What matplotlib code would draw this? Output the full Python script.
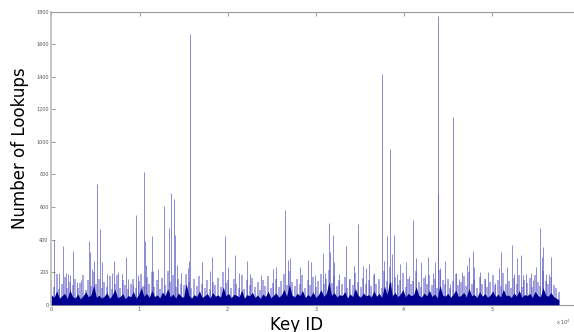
import numpy as np
import matplotlib
matplotlib.use("Agg")
import matplotlib.pyplot as plt

# Key IDs are in units of 10^4
base_keys_start = 0.0
base_keys_step = 0.03

core_counts = [
    60, 45, 85, 40, 55, 70, 38, 90, 50, 42,
    65, 35, 55, 80, 48, 62, 120, 45, 58, 40,
    52, 75, 38, 60, 95, 44, 50, 68, 36, 57,
    48, 82, 40, 63, 105, 52, 70, 45, 88, 50,
    60, 42, 78, 55, 98, 48, 66, 40, 72, 52,
    45, 130, 58, 40, 62, 50, 85, 44, 56, 68,
    40, 75, 52, 60, 46, 110, 55, 70, 42, 64,
    58, 48, 90, 40, 62, 54, 76, 45, 60, 38,
    66, 50, 84, 42, 58, 72, 46, 60, 95, 52,
    125, 60, 48, 70, 55, 88, 44, 62, 50, 78,
    45, 60, 92, 52, 68, 140, 58, 74, 48, 62,
    55, 80, 42, 66, 50, 100, 58, 46, 72, 54,
    62, 48, 85, 52, 70, 44, 115, 60, 150, 56,
    75, 50, 64, 92, 48, 70, 55, 62, 110, 58,
    46, 72, 54, 88, 50, 66, 42, 120, 60, 52,
    70, 45, 64, 90, 50, 58, 76, 48, 100, 55,
    62, 44, 80, 52, 68, 46, 58, 85, 50, 64,
    48, 96, 55, 60, 44, 72, 52, 88, 46, 62,
    56, 70, 45, 82, 58, 48, 105, 60, 52, 75,
    50, 40, 30,
]

haze_counts = [
    150, 110, 190, 95, 130, 170, 100, 140, 120, 160,
    105, 135, 180, 90, 150, 115, 200, 125, 160, 100,
    140, 110, 175, 95, 130, 185, 105, 150, 120, 95,
    130, 160, 100, 145, 190, 115, 170, 125, 200, 110,
    150, 95, 165, 120, 210, 140, 180, 110, 155, 130,
    120, 190, 140, 100, 160, 115, 175, 130, 105, 150,
    95, 140, 120, 165, 110, 200, 135, 150, 100, 160,
    125, 105, 180, 95, 150, 120, 165, 110, 140, 90,
    150, 115, 175, 100, 135, 160, 110, 145, 190, 120,
    210, 140, 115, 160, 125, 185, 100, 150, 120, 170,
    110, 145, 190, 125, 160, 215, 135, 175, 115, 150,
    130, 170, 105, 155, 120, 195, 140, 110, 165, 125,
    150, 115, 185, 130, 160, 105, 210, 145, 230, 135,
    170, 120, 150, 195, 110, 160, 130, 145, 205, 140,
    110, 165, 125, 185, 120, 155, 100, 215, 150, 125,
    160, 105, 145, 190, 120, 140, 175, 115, 200, 130,
    150, 100, 170, 125, 160, 110, 140, 185, 120, 150,
    115, 195, 130, 145, 105, 165, 125, 185, 110, 150,
    135, 165, 110, 180, 140, 115, 205, 145, 125, 170,
    120, 100, 80,
]

spike_keys = [
    0.033, 0.090, 0.135, 0.162, 0.185, 0.211, 0.249, 0.294, 0.333, 0.423,
    0.435, 0.461, 0.487, 0.521, 0.555, 0.578, 0.628, 0.684, 0.714, 0.759,
    0.805, 0.850, 0.873, 0.926, 0.960, 0.986, 1.025, 1.051, 1.062, 1.077,
    1.145, 1.157, 1.210, 1.278, 1.335, 1.354, 1.388, 1.403, 1.426, 1.474,
    1.551, 1.562, 1.577, 1.713, 1.797, 1.826, 1.974, 2.005, 2.081, 2.133,
    2.224, 2.251, 2.376, 2.515, 2.553, 2.655, 2.686, 2.712, 2.818, 2.913,
    2.947, 2.995, 3.079, 3.106, 3.154, 3.166, 3.193, 3.204, 3.268, 3.344,
    3.381, 3.438, 3.477, 3.534, 3.571, 3.608, 3.665, 3.753, 3.779, 3.813,
    3.847, 3.866, 3.885, 3.923, 3.960, 4.025, 4.062, 4.104, 4.142, 4.195,
    4.241, 4.278, 4.328, 4.354, 4.385, 4.390, 4.414, 4.464, 4.530, 4.562,
    4.589, 4.630, 4.664, 4.714, 4.740, 4.789, 4.800, 4.865, 4.920, 4.956,
    5.032, 5.080, 5.107, 5.175, 5.225, 5.250, 5.282, 5.327, 5.355, 5.384,
    5.440, 5.470, 5.497, 5.543, 5.565, 5.584, 5.610, 5.650, 5.667,
]
spike_counts = [
    397, 195, 360, 195, 190, 185, 330, 140, 150, 390,
    325, 220, 270, 741, 463, 265, 190, 195, 268, 200,
    188, 291, 155, 120, 551, 180, 115, 813, 390, 245,
    422, 205, 220, 604, 470, 686, 647, 428, 244, 197,
    225, 268, 1662, 264, 207, 291, 422, 230, 304, 195,
    270, 188, 182, 220, 230, 581, 272, 285, 232, 275,
    265, 180, 320, 195, 500, 325, 428, 260, 190, 360,
    150, 240, 494, 235, 225, 250, 195, 1416, 270, 422,
    954, 310, 428, 190, 250, 265, 175, 520, 285, 262,
    180, 290, 195, 265, 1773, 680, 225, 270, 127, 1154,
    197, 155, 200, 244, 295, 332, 230, 200, 160, 200,
    135, 225, 322, 232, 367, 190, 285, 305, 180, 190,
    195, 150, 232, 469, 291, 356, 190, 190, 291,
]

x_ticks = [0, 1, 2, 3, 4, 5]
y_ticks = [0, 200, 400, 600, 800, 1000, 1200, 1400, 1600, 1800]

plt.rcParams['font.family'] = ['DejaVu Sans']

fig = plt.figure(figsize=(5.74, 3.32), dpi=100)
ax = fig.add_axes([51.4 / 574, 1 - 304.7 / 332, 528.6 / 574, 293.0 / 332])

base_keys = base_keys_start + base_keys_step * np.arange(len(core_counts))

ax.vlines(base_keys, 0, haze_counts, color='#a8a8e0', lw=1.4, zorder=1)
ax.vlines(spike_keys, 0, spike_counts, color='#5a5ac4', lw=0.7, alpha=0.7, zorder=2)
ax.fill_between(base_keys, 0, core_counts, color='#000090', lw=0, zorder=3)

ax.set_xlim(0, 6)
ax.set_ylim(0, 1800)
ax.set_xticks(x_ticks)
ax.set_yticks(y_ticks)
ax.set_xticklabels([str(v) for v in x_ticks])
ax.set_yticklabels([str(v) for v in y_ticks])
ax.tick_params(axis='both', direction='in', length=3, width=0.6, colors='#888888',
               labelsize=3.5, labelcolor='#555555', pad=2, top=True, right=False)

for side in ['top', 'bottom', 'left', 'right']:
    ax.spines[side].set_color('#999999')
    ax.spines[side].set_linewidth(0.8)
ax.spines['left'].set_linewidth(1.2)
ax.spines['left'].set_color('#bbbbbb')

fig.text(20 / 574, 1 - 148.3 / 332, 'Number of Lookups', rotation=90,
         ha='center', va='center', fontsize=12, color='black')
fig.text(296.3 / 574, 2.5 / 332, 'Key ID', ha='center', va='baseline',
         fontsize=12, color='black')
fig.text(571 / 574, 1 - 322 / 332, 'x 10$^4$', ha='right', va='center',
         fontsize=3.5, color='#555555')

fig.savefig('out.png', dpi=100)
